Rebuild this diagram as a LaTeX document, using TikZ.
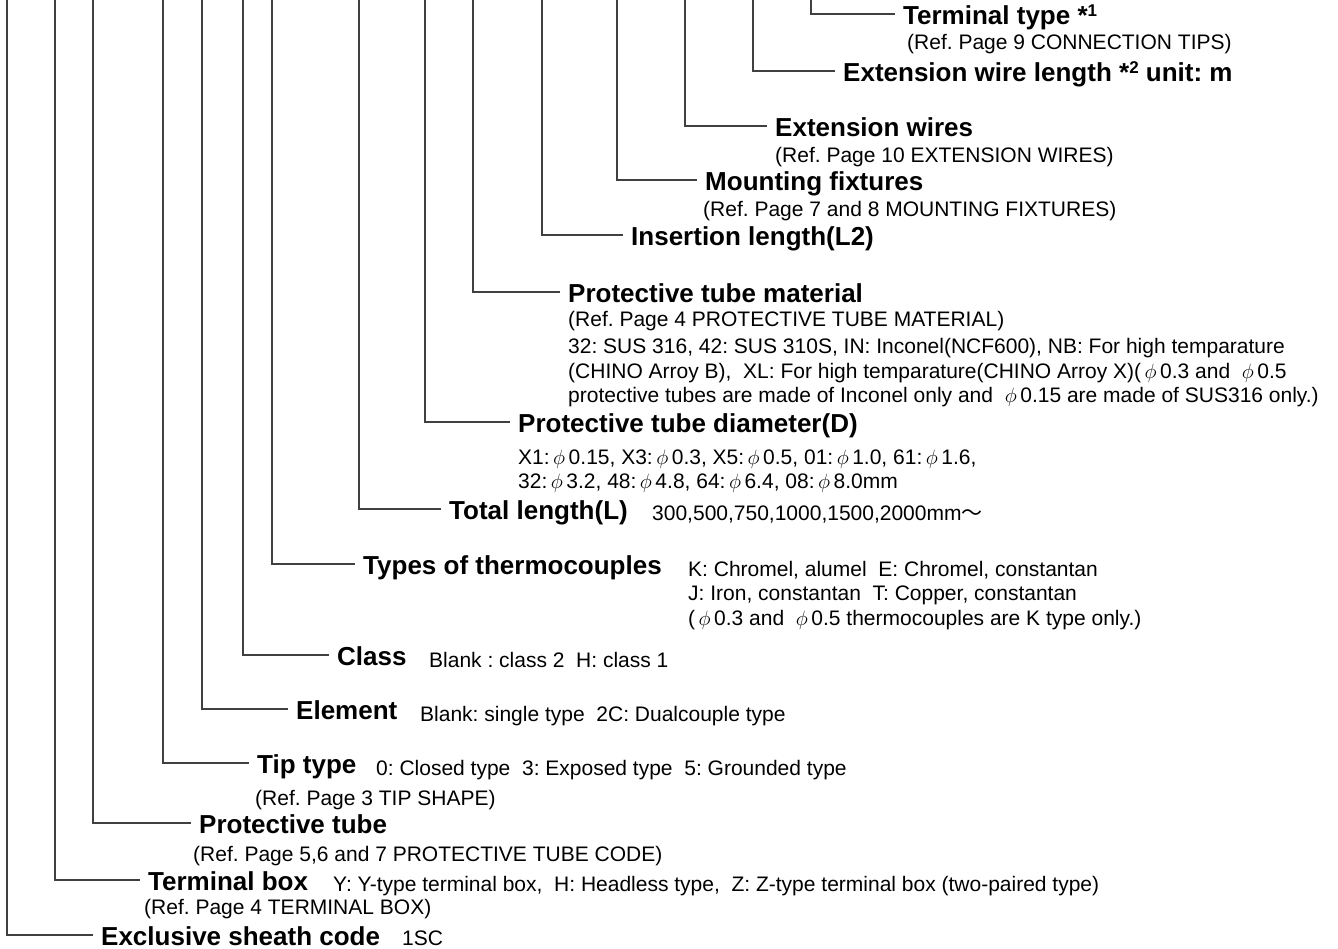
\documentclass[tikz,border=0pt]{standalone}
\usepackage{fontspec}
\setmainfont{Liberation Sans}
\newfontfamily\cjkfont{Noto Sans CJK JP}
\newcommand\ph{$\phi$\,}
\newcommand\supn[1]{\raisebox{8pt}{\fontsize{17}{17}\selectfont #1}}
\tikzset{
  conn/.style={draw=black!75, line width=1.1pt},
  ttl/.style={anchor=west, inner sep=0pt, text height=21pt, text depth=0pt, font=\fontsize{26}{30}\selectfont\bfseries\frenchspacing},
  dsc/.style={anchor=base west, inner sep=0pt, font=\fontsize{21}{25}\selectfont\frenchspacing},
}
\begin{document}
\begin{tikzpicture}[x=1pt,y=-1pt]
\useasboundingbox (0,0) rectangle (1338,949);

% titles
\node[ttl] (t1)  at (903,14)  {Terminal type *\supn{1}};
\node[ttl] (t2)  at (843,71)  {Extension wire length *\supn{2} unit: m};
\node[ttl] (t3)  at (775,126) {Extension wires};
\node[ttl] (t4)  at (705,180) {Mounting fixtures};
\node[ttl] (t5)  at (631,235) {Insertion length(L2)};
\node[ttl] (t6)  at (568,292) {Protective tube material};
\node[ttl] (t7)  at (518,422) {Protective tube diameter(D)};
\node[ttl] (t8)  at (449,509) {Total length(L)};
\node[ttl] (t9)  at (363,564) {Types of thermocouples};
\node[ttl] (t10) at (337,655) {Class};
\node[ttl] (t11) at (296,709) {Element};
\node[ttl] (t12) at (257,763) {Tip type};
\node[ttl] (t13) at (199,823) {Protective tube};
\node[ttl] (t14) at (148,880) {Terminal box};
\node[ttl] (t15) at (101,935) {Exclusive sheath code};

% tops of the vertical leaders
\coordinate (v1)  at (811,0);
\coordinate (v2)  at (753,0);
\coordinate (v3)  at (685,0);
\coordinate (v4)  at (617,0);
\coordinate (v5)  at (542,0);
\coordinate (v6)  at (473,0);
\coordinate (v7)  at (425,0);
\coordinate (v8)  at (359,0);
\coordinate (v9)  at (272,0);
\coordinate (v10) at (243,0);
\coordinate (v11) at (202,0);
\coordinate (v12) at (163,0);
\coordinate (v13) at (93,0);
\coordinate (v14) at (55,0);
\coordinate (v15) at (7,0);

\foreach \i in {1,...,15}{
  \draw[conn] (v\i) |- ([xshift=-8pt]t\i.west);
}

% descriptions
\node[dsc] (d1)  at (907,50)  {(Ref. Page 9 CONNECTION TIPS)};
\node[dsc] (d3)  at (775,163) {(Ref. Page 10 EXTENSION WIRES)};
\node[dsc] (d4)  at (703,217) {(Ref. Page 7 and 8 MOUNTING FIXTURES)};
\node[dsc] (d6a) at (568,327) {(Ref. Page 4 PROTECTIVE TUBE MATERIAL)};
\node[dsc] (d6b) at (568,353) {32: SUS 316, 42: SUS 310S, IN: Inconel(NCF600), NB: For high temparature};
\node[dsc] (d6c) at (568,378) {(CHINO Arroy B),\ \ XL: For high temparature(CHINO Arroy X)(\,\ph 0.3 and \ \ph 0.5};
\node[dsc] (d6d) at (568,402) {protective tubes are made of Inconel only and \ \ph 0.15 are made of SUS316 only.)};
\node[dsc] (d7a) at (518,464) {X1:\,\ph 0.15, X3:\,\ph 0.3, X5:\,\ph 0.5, 01:\,\ph 1.0, 61:\,\ph 1.6,};
\node[dsc] (d7b) at (518,488) {32:\,\ph 3.2, 48:\,\ph 4.8, 64:\,\ph 6.4, 08:\,\ph 8.0mm};
\node[dsc] (d8)  at (652,520) {300,500,750,1000,1500,2000mm{\cjkfont ～}};
\node[dsc] (d9a) at (688,576) {K: Chromel, alumel\ \ E: Chromel, constantan};
\node[dsc] (d9b) at (688,600) {J: Iron, constantan\ \ T: Copper, constantan};
\node[dsc] (d9c) at (688,625) {(\,\ph 0.3 and \ \ph 0.5 thermocouples are K type only.)};
\node[dsc] (d10) at (429,667) {Blank : class 2\ \ H: class 1};
\node[dsc] (d11) at (420,721) {Blank: single type\ \ 2C: Dualcouple type};
\node[dsc] (d12a) at (376,775) {0: Closed type\ \ 3: Exposed type\ \ 5: Grounded type};
\node[dsc] (d12b) at (255,805) {(Ref. Page 3 TIP SHAPE)};
\node[dsc] (d13) at (193,861) {(Ref. Page 5,6 and 7 PROTECTIVE TUBE CODE)};
\node[dsc] (d14a) at (333,891) {Y: Y-type terminal box,\ \ H: Headless type,\ \ Z: Z-type terminal box (two-paired type)};
\node[dsc] (d14b) at (144,914) {(Ref. Page 4 TERMINAL BOX)};
\node[dsc] (d15) at (402,945) {1SC};
\end{tikzpicture}
\end{document}
